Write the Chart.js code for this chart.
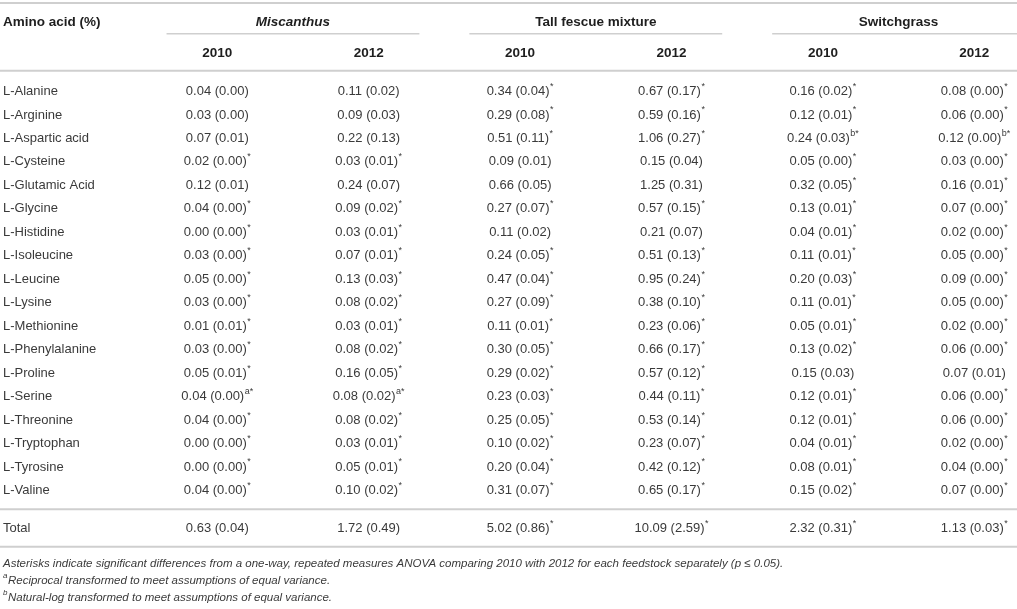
<!DOCTYPE html>
<html>
<head>
<meta charset="utf-8">
<script src="https://cdn.jsdelivr.net/npm/chart.js"></script>
<style>
  html, body { margin: 0; padding: 0; background: #fff; }
  #wrap { width: 1017px; height: 609px; position: relative; }
</style>
</head>
<body>
<div id="wrap"><canvas id="tabela"></canvas></div>
<script>
const aminoAcids = ['L-Alanine', 'L-Arginine', 'L-Aspartic acid', 'L-Cysteine', 'L-Glutamic Acid', 'L-Glycine',
    'L-Histidine', 'L-Isoleucine', 'L-Leucine', 'L-Lysine', 'L-Methionine', 'L-Phenylalanine',
    'L-Proline', 'L-Serine', 'L-Threonine', 'L-Tryptophan', 'L-Tyrosine', 'L-Valine'];
const feedstocks = ['Miscanthus', 'Tall fescue mixture', 'Switchgrass'];
const years = ['2010', '2012'];

// media (erro padrao) e marcas de significancia, uma lista por coluna
const miscanthus2010 = [0.04, 0.03, 0.07, 0.02, 0.12, 0.04, 0.00, 0.03, 0.05, 0.03, 0.01, 0.03, 0.05, 0.04, 0.04, 0.00, 0.00, 0.04];
const miscanthus2010SE = [0.00, 0.00, 0.01, 0.00, 0.01, 0.00, 0.00, 0.00, 0.00, 0.00, 0.01, 0.00, 0.01, 0.00, 0.00, 0.00, 0.00, 0.00];
const miscanthus2010Sig = ['', '', '', '*', '', '*', '*', '*', '*', '*', '*', '*', '*', 'a*', '*', '*', '*', '*'];

const miscanthus2012 = [0.11, 0.09, 0.22, 0.03, 0.24, 0.09, 0.03, 0.07, 0.13, 0.08, 0.03, 0.08, 0.16, 0.08, 0.08, 0.03, 0.05, 0.10];
const miscanthus2012SE = [0.02, 0.03, 0.13, 0.01, 0.07, 0.02, 0.01, 0.01, 0.03, 0.02, 0.01, 0.02, 0.05, 0.02, 0.02, 0.01, 0.01, 0.02];
const miscanthus2012Sig = ['', '', '', '*', '', '*', '*', '*', '*', '*', '*', '*', '*', 'a*', '*', '*', '*', '*'];

const fescue2010 = [0.34, 0.29, 0.51, 0.09, 0.66, 0.27, 0.11, 0.24, 0.47, 0.27, 0.11, 0.30, 0.29, 0.23, 0.25, 0.10, 0.20, 0.31];
const fescue2010SE = [0.04, 0.08, 0.11, 0.01, 0.05, 0.07, 0.02, 0.05, 0.04, 0.09, 0.01, 0.05, 0.02, 0.03, 0.05, 0.02, 0.04, 0.07];
const fescue2010Sig = ['*', '*', '*', '', '', '*', '', '*', '*', '*', '*', '*', '*', '*', '*', '*', '*', '*'];

const fescue2012 = [0.67, 0.59, 1.06, 0.15, 1.25, 0.57, 0.21, 0.51, 0.95, 0.38, 0.23, 0.66, 0.57, 0.44, 0.53, 0.23, 0.42, 0.65];
const fescue2012SE = [0.17, 0.16, 0.27, 0.04, 0.31, 0.15, 0.07, 0.13, 0.24, 0.10, 0.06, 0.17, 0.12, 0.11, 0.14, 0.07, 0.12, 0.17];
const fescue2012Sig = ['*', '*', '*', '', '', '*', '', '*', '*', '*', '*', '*', '*', '*', '*', '*', '*', '*'];

const switch2010 = [0.16, 0.12, 0.24, 0.05, 0.32, 0.13, 0.04, 0.11, 0.20, 0.11, 0.05, 0.13, 0.15, 0.12, 0.12, 0.04, 0.08, 0.15];
const switch2010SE = [0.02, 0.01, 0.03, 0.00, 0.05, 0.01, 0.01, 0.01, 0.03, 0.01, 0.01, 0.02, 0.03, 0.01, 0.01, 0.01, 0.01, 0.02];
const switch2010Sig = ['*', '*', 'b*', '*', '*', '*', '*', '*', '*', '*', '*', '*', '', '*', '*', '*', '*', '*'];

const switch2012 = [0.08, 0.06, 0.12, 0.03, 0.16, 0.07, 0.02, 0.05, 0.09, 0.05, 0.02, 0.06, 0.07, 0.06, 0.06, 0.02, 0.04, 0.07];
const switch2012SE = [0.00, 0.00, 0.00, 0.00, 0.01, 0.00, 0.00, 0.00, 0.00, 0.00, 0.00, 0.00, 0.01, 0.00, 0.00, 0.00, 0.00, 0.00];
const switch2012Sig = ['*', '*', 'b*', '*', '*', '*', '*', '*', '*', '*', '*', '*', '', '*', '*', '*', '*', '*'];

const totals = [0.63, 1.72, 5.02, 10.09, 2.32, 1.13];
const totalsSE = [0.04, 0.49, 0.86, 2.59, 0.31, 0.03];
const totalsSig = ['', '', '*', '*', '*', '*'];

const footnotes = [
    ['', 'Asterisks indicate significant differences from a one-way, repeated measures ANOVA comparing 2010 with 2012 for each feedstock separately (p ≤ 0.05).'],
    ['a', 'Reciprocal transformed to meet assumptions of equal variance.'],
    ['b', 'Natural-log transformed to meet assumptions of equal variance.']
];

const colunas = [
    { mean: miscanthus2010, se: miscanthus2010SE, sig: miscanthus2010Sig },
    { mean: miscanthus2012, se: miscanthus2012SE, sig: miscanthus2012Sig },
    { mean: fescue2010, se: fescue2010SE, sig: fescue2010Sig },
    { mean: fescue2012, se: fescue2012SE, sig: fescue2012Sig },
    { mean: switch2010, se: switch2010SE, sig: switch2010Sig },
    { mean: switch2012, se: switch2012SE, sig: switch2012Sig }
];

// escalas: coluna 1..6 no eixo x, linha 0..17 no eixo y
const X_MIN = -0.435, X_MAX = 6.282;
const Y_MIN = -3.899, Y_MAX = 22.05;
const LINHA_TOTAL = aminoAcids.length + 0.62;

const FONTE = '13px "Liberation Sans", Arial, sans-serif';
const FONTE_B = 'bold 13.5px "Liberation Sans", Arial, sans-serif';
const FONTE_BI = 'italic bold 13.5px "Liberation Sans", Arial, sans-serif';
const FONTE_SUP = '9px "Liberation Sans", Arial, sans-serif';
const FONTE_NOTA = 'italic 11.5px "Liberation Sans", Arial, sans-serif';
const FONTE_NOTA_SUP = 'italic 8px "Liberation Sans", Arial, sans-serif';
const COR_TEXTO = '#3a3a3a';
const COR_CAB = '#1e1e1e';
const COR_REGRA = '#cfcfcf';

function celula(media, se) {
    return media.toFixed(2) + ' (' + se.toFixed(2) + ')';
}

const datasets = colunas.map((col, c) => ({
    label: feedstocks[Math.floor(c / 2)] + ' ' + years[c % 2],
    alinhar: 'center',
    data: aminoAcids.map((nome, i) => ({ x: c + 1, y: i, txt: celula(col.mean[i], col.se[i]), sup: col.sig[i] }))
        .concat([{ x: c + 1, y: LINHA_TOTAL, txt: celula(totals[c], totalsSE[c]), sup: totalsSig[c] }])
}));

datasets.unshift({
    label: 'Amino acid (%)',
    alinhar: 'left',
    data: aminoAcids.map((nome, i) => ({ x: X_MIN, y: i, txt: nome, sup: '' }))
        .concat([{ x: X_MIN, y: LINHA_TOTAL, txt: 'Total', sup: '' }])
});

function escreve(ctx, texto, sup, px, py, alinhar, fonte, fonteSup, cor, supAntes) {
    ctx.font = fonte;
    const w = ctx.measureText(texto).width;
    let sw = 0;
    if (sup) {
        ctx.font = fonteSup;
        sw = ctx.measureText(sup).width + 0.5;
    }
    const x0 = alinhar === 'center' ? px - (w + sw) / 2 : px;
    ctx.fillStyle = cor;
    ctx.textAlign = 'left';
    ctx.textBaseline = 'middle';
    if (supAntes) {
        ctx.font = fonteSup;
        ctx.fillText(sup, x0, py - 5);
        ctx.font = fonte;
        ctx.fillText(texto, x0 + sw, py);
    } else {
        ctx.font = fonte;
        ctx.fillText(texto, x0, py);
        if (sup) {
            ctx.font = fonteSup;
            ctx.fillText(sup, x0 + w + 0.5, py - 5);
        }
    }
}

function regra(ctx, x1, x2, y, largura) {
    ctx.strokeStyle = COR_REGRA;
    ctx.lineWidth = largura;
    ctx.beginPath();
    ctx.moveTo(x1, y);
    ctx.lineTo(x2, y);
    ctx.stroke();
}

const desenhaTabela = {
    id: 'desenhaTabela',
    afterDatasetsDraw(chart) {
        const ctx = chart.ctx;
        const sx = chart.scales.x;
        const sy = chart.scales.y;
        const esq = sx.getPixelForValue(X_MIN);
        const dir = sx.getPixelForValue(X_MAX);
        ctx.save();

        // regras horizontais
        regra(ctx, esq, dir, sy.getPixelForValue(-3.77), 2);
        regra(ctx, esq, dir, sy.getPixelForValue(-0.88), 2);
        regra(ctx, esq, dir, sy.getPixelForValue(17.8), 2);
        regra(ctx, esq, dir, sy.getPixelForValue(LINHA_TOTAL + 0.78), 2);
        feedstocks.forEach((f, g) => {
            const centro = g * 2 + 1.5;
            const fim = g === feedstocks.length - 1 ? dir : sx.getPixelForValue(centro + 0.835);
            regra(ctx, sx.getPixelForValue(centro - 0.835), fim, sy.getPixelForValue(-2.46), 1.5);
        });

        // cabecalho
        const yCab = sy.getPixelForValue(-2.93);
        const yAno = sy.getPixelForValue(-1.64);
        escreve(ctx, 'Amino acid (%)', '', esq + 3, yCab, 'left', FONTE_B, FONTE_SUP, COR_CAB);
        feedstocks.forEach((f, g) => {
            escreve(ctx, f, '', sx.getPixelForValue(g * 2 + 1.5), yCab, 'center', g === 0 ? FONTE_BI : FONTE_B, FONTE_SUP, COR_CAB);
            years.forEach((a, k) => {
                escreve(ctx, a, '', sx.getPixelForValue(g * 2 + k + 1), yAno, 'center', FONTE_B, FONTE_SUP, COR_CAB);
            });
        });

        // celulas, posicionadas pelos elementos do grafico
        chart.data.datasets.forEach((ds, d) => {
            const meta = chart.getDatasetMeta(d);
            ds.data.forEach((p, i) => {
                const el = meta.data[i];
                const px = ds.alinhar === 'left' ? el.x + 3 : el.x;
                escreve(ctx, p.txt, p.sup, px, el.y, ds.alinhar, FONTE, FONTE_SUP, COR_TEXTO);
            });
        });

        // notas de rodape
        footnotes.forEach((n, k) => {
            const yn = sy.getPixelForValue(LINHA_TOTAL + 1.5 + k * 0.72);
            escreve(ctx, n[1], n[0], esq + 3, yn, 'left', FONTE_NOTA, FONTE_NOTA_SUP, COR_TEXTO, true);
        });
        ctx.restore();
    }
};

new Chart(document.getElementById('tabela').getContext('2d'), {
    type: 'scatter',
    data: { datasets: datasets },
    options: {
        responsive: true,
        maintainAspectRatio: false,
        animation: false,
        events: [],
        layout: { padding: 0, autoPadding: false },
        elements: { point: { radius: 0, hoverRadius: 0, borderWidth: 0 } },
        plugins: { legend: { display: false }, tooltip: { enabled: false } },
        scales: {
            x: { type: 'linear', display: false, min: X_MIN, max: X_MAX },
            y: { type: 'linear', display: false, reverse: true, min: Y_MIN, max: Y_MAX }
        }
    },
    plugins: [desenhaTabela]
});
</script>
</body>
</html>
